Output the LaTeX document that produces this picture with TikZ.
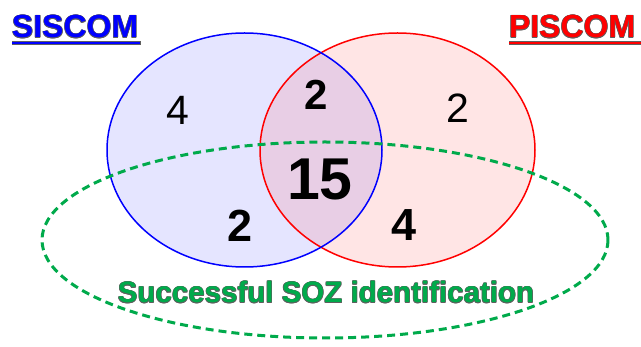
\documentclass[tikz,border=0pt]{standalone}
\usepackage{fontspec}
\setmainfont{Liberation Sans}
\definecolor{siscomblue}{RGB}{0,0,255}
\definecolor{piscomred}{RGB}{255,0,0}
\definecolor{sozgreen}{RGB}{0,170,75}
\definecolor{edgegray}{RGB}{95,95,95}

% text with a thin dark rim: grey copies around the coloured one
\newcommand\rimtext[6]{% name, x, y, anchor, colour, text
  \foreach \dx/\dy in {0.55/0,-0.55/0,0/0.55,0/-0.55,0.4/0.4,-0.4/0.4,0.4/-0.4,-0.4/-0.4}
    {\node[rimbase, anchor=#4, text=edgegray] at (#2+\dx,#3+\dy) {#6};}
  \node[rimbase, anchor=#4, text=#5] (#1) at (#2,#3) {#6};
}

\begin{document}
\begin{tikzpicture}[x=1pt, y=-1pt,
  rimbase/.style={inner sep=0pt, outer sep=0pt},
  count/.style={inner sep=0pt, text=black},
  plain/.style={count, font=\fontsize{41}{44}\selectfont},
  heavy/.style={count, font=\fontsize{45}{48}\selectfont\bfseries},
  huge/.style={count, font=\fontsize{59}{62}\selectfont\bfseries},
  setline/.style={line width=1.5pt},
  sozline/.style={draw=sozgreen, line width=3pt, dash pattern=on 8pt off 5pt}
]
\useasboundingbox (0,0) rectangle (641,347);

% set fills
\fill[siscomblue, fill opacity=0.1] (244.5,150) ellipse [x radius=137.5, y radius=117];
\fill[piscomred, fill opacity=0.1] (397.5,150) ellipse [x radius=137.5, y radius=117];
% set outlines
\draw[piscomred, setline] (397.5,150) ellipse [x radius=137.5, y radius=117];
\draw[siscomblue, setline] (244.5,150) ellipse [x radius=137.5, y radius=117];

% successful SOZ identification region
\draw[sozline] (325,240) ellipse [x radius=283, y radius=98];

% titles with underlines
\fill[edgegray] (11.5,41.5) rectangle (140.5,45);
\fill[siscomblue] (12,42) rectangle (140,44.5);
\rimtext{siscom}{12}{38}{base west}{siscomblue}{\fontsize{32}{36}\selectfont\bfseries SISCOM}
\fill[edgegray] (508.5,41.5) rectangle (641,45);
\fill[piscomred] (509,42) rectangle (641,44.5);
\rimtext{piscom}{509}{38}{base west}{piscomred}{\fontsize{32}{36}\selectfont\bfseries PISCOM}

% region counts
\node[plain] (onlyS) at (178,110) {4};
\node[plain] (onlyP) at (458,108) {2};
\node[count, font=\fontsize{42}{46}\selectfont\bfseries] (bothFail) at (316,95) {2};
\node[huge] (bothOk) at (320,179) {15};
\node[heavy] (sOk) at (240,226) {2};
\node[heavy] (pOk) at (404,225) {4};

% region label
\rimtext{soz}{326}{303}{base}{sozgreen}{\fontsize{29.5}{32}\selectfont\bfseries Successful SOZ identification}
\end{tikzpicture}
\end{document}
